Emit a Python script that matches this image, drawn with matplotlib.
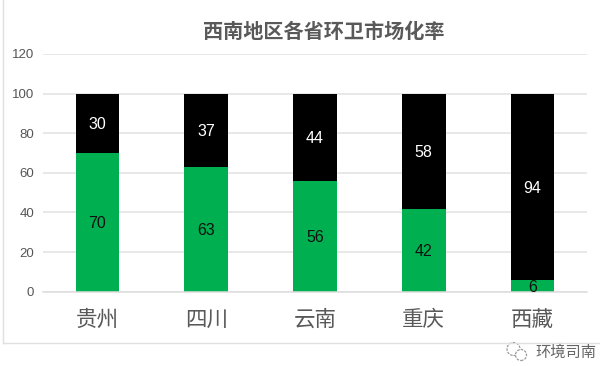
import matplotlib
matplotlib.use('Agg')
import matplotlib.pyplot as plt
import matplotlib.patches as patches
import numpy as np

plt.rcParams['font.family'] = ['Liberation Sans', 'Noto Sans CJK SC', 'DejaVu Sans']

provinces = ['贵州', '四川', '云南', '重庆', '西藏']
market = [70, 63, 56, 42, 6]
non_market = [30, 37, 44, 58, 94]
yticks = [0, 20, 40, 60, 80, 100, 120]

W, H = 600, 366
fig = plt.figure(figsize=(W / 100, H / 100), dpi=100, facecolor='white')
ax = fig.add_axes([43 / W, 1 - 291.7 / H, 544 / W, 237.7 / H])

x = np.arange(len(provinces))
ax.bar(x, market, width=0.4, color='#00B050', zorder=2)
ax.bar(x, non_market, width=0.4, bottom=market, color='black', zorder=2)

for i in x:
    ax.text(i, market[i] / 2, str(market[i]), ha='center', va='center_baseline', fontsize=11.5, color='#111111', zorder=3)
    ax.text(i, market[i] + non_market[i] / 2, str(non_market[i]), ha='center', va='center_baseline', fontsize=11.5, color='white', zorder=3)

ax.set_xlim(-0.5, 4.5)
ax.set_ylim(0, 120)
ax.set_yticks(yticks)
ax.set_xticks(x)
ax.set_xticklabels(provinces, fontsize=15.5, color='#595959', family=['Noto Sans CJK SC', 'DejaVu Sans'])
ax.tick_params(axis='x', length=0, pad=12.5)
ax.tick_params(axis='y', length=0, pad=6.5, labelsize=9.5, labelcolor='#555555')
ax.grid(axis='y', color='#E2E2E2', linewidth=1.1, zorder=0)
ax.set_axisbelow(True)
for side in ['top', 'right', 'left']:
    ax.spines[side].set_visible(False)
ax.spines['bottom'].set_color('#DDDDDD')
ax.spines['bottom'].set_linewidth(1.1)

fig.text(324 / W, 1 - 31 / H, '西南地区各省环卫市场化率', ha='center', va='center', fontsize=14.5,
         fontweight='bold', color='#595959', family=['Noto Sans CJK SC', 'DejaVu Sans'])

# chart frame, open on the top and right
fig.add_artist(plt.Line2D([2.5 / W, 2.5 / W], [1 - 0 / H, 1 - 343 / H], color='#E0E0E0', linewidth=1))
fig.add_artist(plt.Line2D([2.5 / W, 1], [1 - 343 / H, 1 - 343 / H], color='#E0E0E0', linewidth=1))

# watermark
fig.text(566 / W, 1 - 352 / H, '环境司南', ha='center', va='center', fontsize=11, color='#666666',
         family=['Noto Sans CJK SC', 'DejaVu Sans'])
for cx, cy, r in [(513.5, 349, 6.5), (521, 355, 5.5)]:
    fig.add_artist(patches.Ellipse((cx / W, 1 - cy / H), 2 * r / W, 2 * r / H, fill=True, facecolor='white',
                                   edgecolor='#9A9A9A', linewidth=0.9, linestyle=(0, (2, 1))))

fig.savefig('out.png', dpi=100)
